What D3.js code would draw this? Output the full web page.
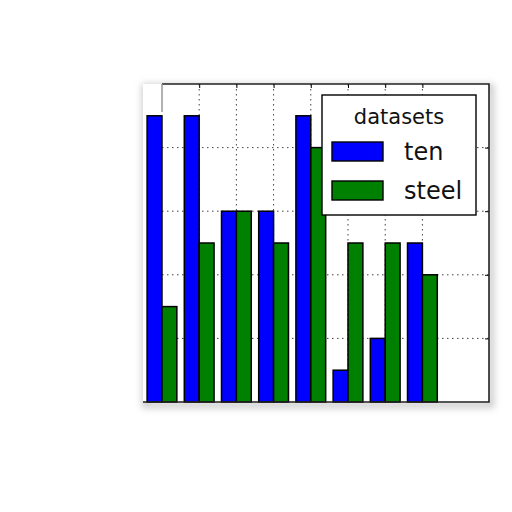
<!DOCTYPE html>
<html>
<head>
<meta charset="utf-8">
<style>
body { margin: 0; background: #fff; font-family: "DejaVu Sans", sans-serif; }
</style>
</head>
<body>
<div id="chart"></div>
<script src="https://d3js.org/d3.v7.min.js"></script>
<script>
// data
var groups = [0, 1, 2, 3, 4, 5, 6, 7];
var ten = [4.5, 4.5, 3, 3, 4.5, 0.5, 1, 2.5];
var steel = [1.5, 2.5, 3, 2.5, 4, 2.5, 2.5, 2];
var seriesNames = ["ten", "steel"];
var seriesColors = ["#0000ff", "#008000"];
var yTicks = [1, 2, 3, 4];
var xTicks = [1, 2, 3, 4, 5, 6, 7];

var W = 512, H = 512;
// plot box (avoid the name "top", it is window.top)
var pL = 143, pR = 489, pT = 84, pB = 402;

var x = d3.scaleLinear().domain([-0.51, 8.79]).range([pL, pR]);
var y = d3.scaleLinear().domain([0, 5]).range([pB, pT]);
var bw = 0.4;

var svg = d3.select("#chart").append("svg")
    .attr("width", W).attr("height", H);

// soft shadow round the frame
var defs = svg.append("defs");
defs.append("filter").attr("id", "blur")
    .attr("x", "-10%").attr("y", "-10%").attr("width", "120%").attr("height", "120%")
  .append("feGaussianBlur").attr("stdDeviation", 3.5);

svg.append("rect")
    .attr("x", pL + 2).attr("y", pT + 3)
    .attr("width", pR - pL).attr("height", pB - pT)
    .attr("fill", "none").attr("stroke", "#c8c8c8").attr("stroke-width", 6)
    .attr("filter", "url(#blur)");

svg.append("rect")
    .attr("x", pL).attr("y", pT)
    .attr("width", pR - pL).attr("height", pB - pT)
    .attr("fill", "#fff");

// grid
var grid = svg.append("g").attr("stroke", "#444").attr("stroke-width", 1)
    .attr("stroke-dasharray", "1.5,3.5");
grid.selectAll(".hg").data(yTicks).enter().append("line")
    .attr("x1", pL + 19).attr("x2", pR)
    .attr("y1", function(d) { return y(d); })
    .attr("y2", function(d) { return y(d); });
grid.selectAll(".vg").data(xTicks).enter().append("line")
    .attr("y1", pT).attr("y2", pB)
    .attr("x1", function(d) { return x(d); })
    .attr("x2", function(d) { return x(d); });

// inward ticks on top and right
svg.append("g").attr("transform", "translate(0," + pT + ")")
    .call(d3.axisBottom(x).tickValues(xTicks).tickSize(4).tickFormat(""))
    .call(function(g) { g.select(".domain").remove(); });
svg.append("g").attr("transform", "translate(" + pR + ",0)")
    .call(d3.axisLeft(y).tickValues(yTicks).tickSize(4).tickFormat(""))
    .call(function(g) { g.select(".domain").remove(); });

// bars
var sets = [ten, steel];
sets.forEach(function(vals, s) {
  svg.append("g").selectAll("rect")
      .data(groups).enter().append("rect")
      .attr("x", function(i) { return x(i - bw + s * bw); })
      .attr("width", x(bw) - x(0))
      .attr("y", function(i) { return y(vals[i]); })
      .attr("height", function(i) { return y(0) - y(vals[i]); })
      .attr("fill", seriesColors[s])
      .attr("stroke", "#000").attr("stroke-width", 1.5);
});

// frame
svg.append("path")
    .attr("d", "M" + pL + "," + pB + "H" + pR + "V" + pT + "H" + (pL + 19))
    .attr("fill", "none").attr("stroke", "#222").attr("stroke-width", 1.6);
svg.append("line")
    .attr("x1", pL + 19).attr("x2", pL + 19).attr("y1", pT).attr("y2", pT + 28)
    .attr("stroke", "#999").attr("stroke-width", 1.5);

// legend
var lg = svg.append("g").attr("transform", "translate(322,95)");
lg.append("rect").attr("width", 154).attr("height", 120)
    .attr("fill", "#fff").attr("stroke", "#000").attr("stroke-width", 1.4);
lg.append("text").attr("x", 77).attr("y", 29).attr("text-anchor", "middle")
    .attr("font-size", 21).attr("fill", "#111").text("datasets");
var items = lg.selectAll(".item").data(seriesNames).enter().append("g")
    .attr("transform", function(d, i) { return "translate(10," + (47 + i * 39) + ")"; });
items.append("rect").attr("width", 51).attr("height", 19)
    .attr("fill", function(d, i) { return seriesColors[i]; })
    .attr("stroke", "#000").attr("stroke-width", 1.4);
items.append("text").attr("x", 72).attr("y", 18)
    .attr("font-size", 24).attr("fill", "#111").text(function(d) { return d; });
</script>
</body>
</html>
